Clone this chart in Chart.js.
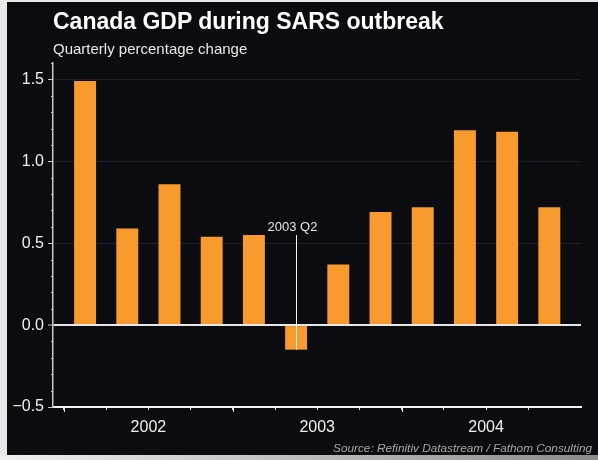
<!DOCTYPE html>
<html>
<head>
<meta charset="utf-8">
<script src="https://cdn.jsdelivr.net/npm/chart.js@4/dist/chart.umd.min.js"></script>
<style>
html,body{margin:0;padding:0;width:598px;height:460px;overflow:hidden;background:#e8e8e8;font-family:"Liberation Sans",Arial,sans-serif;}
#frame{position:absolute;left:7px;top:2px;width:591px;height:453px;background:#0b0c10;}
#strip{position:absolute;left:0;top:455px;width:598px;height:5px;background:linear-gradient(to right,#f0f0f0,#8a8a8a);}
#title{position:absolute;left:46px;top:8px;font-size:23px;line-height:23px;font-weight:bold;color:#ffffff;white-space:nowrap;}
#subtitle{position:absolute;left:46px;top:39px;font-size:15px;line-height:15px;color:#e8e8e8;white-space:nowrap;}
#source{position:absolute;right:6px;top:440px;font-size:11.8px;line-height:12px;font-style:italic;color:#a8a8a8;white-space:nowrap;}
canvas{position:absolute;left:0;top:0;}
</style>
</head>
<body>
<div id="frame">
  <canvas id="c" width="591" height="453"></canvas>
  <div id="title">Canada GDP during SARS outbreak</div>
  <div id="subtitle">Quarterly percentage change</div>
  <div id="source">Source: Refinitiv Datastream / Fathom Consulting</div>
</div>
<div id="strip"></div>
<script>
// ---- data ----
const quarters = ['2002 Q1','2002 Q2','2002 Q3','2002 Q4','2003 Q1','2003 Q2','2003 Q3','2003 Q4','2004 Q1','2004 Q2','2004 Q3','2004 Q4'];
const gdpChange = [1.49, 0.59, 0.86, 0.54, 0.55, -0.15, 0.37, 0.69, 0.72, 1.19, 1.18, 0.72];
const yearLabels = ['2002','2003','2004'];
const yTickValues = [-0.5, 0, 0.5, 1.0, 1.5];
const highlightQuarter = '2003 Q2';
const highlightTop = 0.55;

// ---- derived ----
const qPerYear = 4;
const boundaries = quarters.map((q, i) => i - 0.5);
const yearMid = {};
yearLabels.forEach((yr, k) => { yearMid[(k * qPerYear + (qPerYear - 1) / 2).toFixed(1)] = yr; });
const yearStarts = yearLabels.map((yr, k) => k * qPerYear - 0.5);
const annIndex = quarters.indexOf(highlightQuarter);

Chart.defaults.font.family = '"Liberation Sans", Arial, sans-serif';

const decor = {
  id: 'decor',
  afterDatasetsDraw(chart) {
    const { ctx, scales: { x, y } } = chart;
    ctx.save();
    const px = Math.round(x.getPixelForValue(annIndex)) + 0.5;
    const top = y.getPixelForValue(highlightTop);
    const bot = y.getPixelForValue(gdpChange[annIndex]);
    ctx.strokeStyle = '#f4f4f4';
    ctx.lineWidth = 1;
    ctx.beginPath(); ctx.moveTo(px, top); ctx.lineTo(px, bot); ctx.stroke();
    ctx.fillStyle = '#e6e6e6';
    ctx.font = '13px "Liberation Sans", Arial, sans-serif';
    ctx.textAlign = 'center';
    ctx.textBaseline = 'middle';
    ctx.fillText(highlightQuarter, px - 4, top - 8);
    ctx.restore();
  },
  afterDraw(chart) {
    const { ctx, scales: { x, y }, chartArea: a } = chart;
    ctx.save();
    ctx.strokeStyle = '#c8c8c8';
    ctx.lineWidth = 1;
    for (let k = -5; k <= 16; k++) {
      if (k % 5 === 0) continue;
      const py = Math.round(y.getPixelForValue(k / 10)) + 0.5;
      ctx.beginPath(); ctx.moveTo(a.left - 2, py); ctx.lineTo(a.left, py); ctx.stroke();
    }
    ctx.strokeStyle = '#e8e8e8';
    yearStarts.forEach(v => {
      const px = Math.round(x.getPixelForValue(v)) + 0.5;
      ctx.beginPath(); ctx.moveTo(px, a.bottom); ctx.lineTo(px, a.bottom + 5); ctx.stroke();
    });
    ctx.restore();
  }
};

new Chart(document.getElementById('c'), {
  type: 'bar',
  data: {
    datasets: [{
      label: 'Quarterly percentage change',
      data: gdpChange.map((v, i) => ({ x: i, y: v })),
      backgroundColor: '#f89a2e',
      borderWidth: 0,
      barPercentage: 0.52,
      categoryPercentage: 1.0
    }]
  },
  options: {
    responsive: false,
    animation: false,
    layout: { padding: { top: 61, right: 17, left: 0, bottom: 0 } },
    plugins: { legend: { display: false }, tooltip: { enabled: false }, title: { display: false } },
    scales: {
      x: {
        type: 'linear',
        offset: false,
        min: -0.76,
        max: 11.75,
        afterBuildTicks: s => { s.ticks = boundaries.map(v => ({ value: v })); },
        afterFit: s => { s.height = 48; },
        grid: { offset: false, drawOnChartArea: false, drawTicks: true, tickLength: 3, tickColor: '#e0e0e0', tickWidth: 1 },
        border: { display: true, color: '#f2f2f2', width: 2 },
        ticks: {
          autoSkip: false, maxRotation: 0, padding: 8,
          color: '#f0f0f0', font: { size: 16 },
          callback: v => yearMid[Number(v).toFixed(1)] || ''
        }
      },
      y: {
        min: -0.5,
        max: 1.6,
        afterBuildTicks: s => { s.ticks = yTickValues.map(v => ({ value: v })); },
        afterFit: s => { s.width = 46; },
        grid: {
          color: c => c.tick.value === 0 ? '#e8e8e8' : (c.tick.value === -0.5 ? 'rgba(0,0,0,0)' : '#1d2026'),
          lineWidth: c => c.tick.value === 0 ? 2 : 1,
          drawTicks: true, tickLength: 5, tickColor: '#c8c8c8', tickWidth: 1
        },
        border: { display: true, color: '#c8c8c8', width: 1.5 },
        ticks: {
          padding: 4, color: '#f0f0f0', font: { size: 16 },
          callback: v => Number(v).toFixed(1).replace('-', '\u2212')
        }
      }
    }
  },
  plugins: [decor]
});
</script>
</body>
</html>
